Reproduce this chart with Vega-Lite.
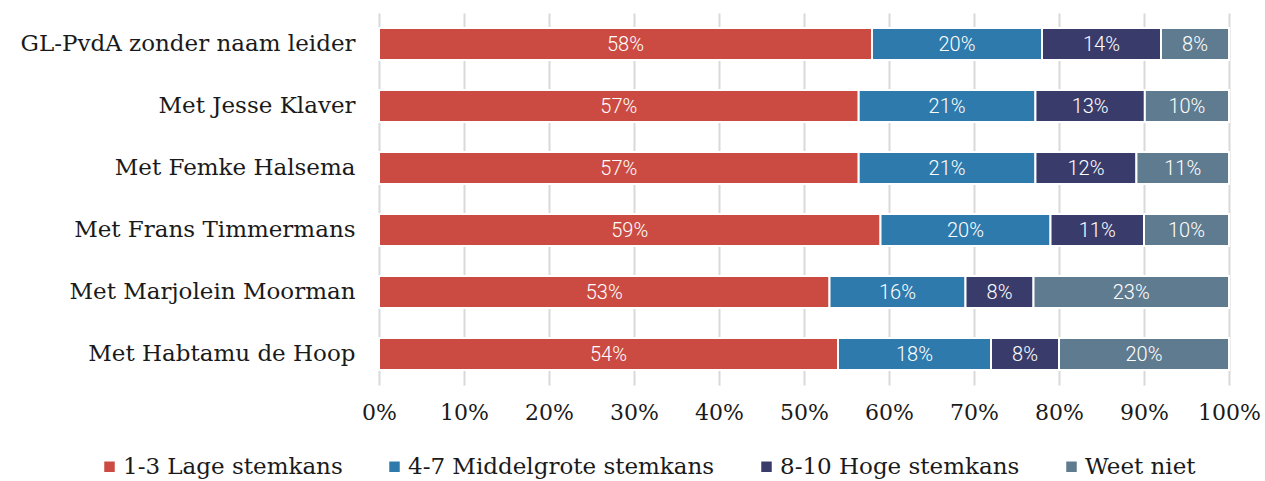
{
  "$schema": "https://vega.github.io/schema/vega-lite/v6.json",
  "width": 850,
  "height": 372,
  "autosize": {"type": "none"},
  "padding": {"left": 379, "top": 13, "right": 36, "bottom": 96},
  "background": "white",
  "config": {"view": {"stroke": null}},
  "data": {"values": [
    {"rij": "GL-PvdA zonder naam leider", "cat": "1-3 Lage stemkans", "v": 0.58},
    {"rij": "GL-PvdA zonder naam leider", "cat": "4-7 Middelgrote stemkans", "v": 0.20},
    {"rij": "GL-PvdA zonder naam leider", "cat": "8-10 Hoge stemkans", "v": 0.14},
    {"rij": "GL-PvdA zonder naam leider", "cat": "Weet niet", "v": 0.08},
    {"rij": "Met Jesse Klaver", "cat": "1-3 Lage stemkans", "v": 0.57},
    {"rij": "Met Jesse Klaver", "cat": "4-7 Middelgrote stemkans", "v": 0.21},
    {"rij": "Met Jesse Klaver", "cat": "8-10 Hoge stemkans", "v": 0.13},
    {"rij": "Met Jesse Klaver", "cat": "Weet niet", "v": 0.10},
    {"rij": "Met Femke Halsema", "cat": "1-3 Lage stemkans", "v": 0.57},
    {"rij": "Met Femke Halsema", "cat": "4-7 Middelgrote stemkans", "v": 0.21},
    {"rij": "Met Femke Halsema", "cat": "8-10 Hoge stemkans", "v": 0.12},
    {"rij": "Met Femke Halsema", "cat": "Weet niet", "v": 0.11},
    {"rij": "Met Frans Timmermans", "cat": "1-3 Lage stemkans", "v": 0.59},
    {"rij": "Met Frans Timmermans", "cat": "4-7 Middelgrote stemkans", "v": 0.20},
    {"rij": "Met Frans Timmermans", "cat": "8-10 Hoge stemkans", "v": 0.11},
    {"rij": "Met Frans Timmermans", "cat": "Weet niet", "v": 0.10},
    {"rij": "Met Marjolein Moorman", "cat": "1-3 Lage stemkans", "v": 0.53},
    {"rij": "Met Marjolein Moorman", "cat": "4-7 Middelgrote stemkans", "v": 0.16},
    {"rij": "Met Marjolein Moorman", "cat": "8-10 Hoge stemkans", "v": 0.08},
    {"rij": "Met Marjolein Moorman", "cat": "Weet niet", "v": 0.23},
    {"rij": "Met Habtamu de Hoop", "cat": "1-3 Lage stemkans", "v": 0.54},
    {"rij": "Met Habtamu de Hoop", "cat": "4-7 Middelgrote stemkans", "v": 0.18},
    {"rij": "Met Habtamu de Hoop", "cat": "8-10 Hoge stemkans", "v": 0.08},
    {"rij": "Met Habtamu de Hoop", "cat": "Weet niet", "v": 0.20}
  ]},
  "transform": [
    {"stack": "v", "groupby": ["rij"], "offset": "normalize", "sort": [{"field": "cat", "order": "ascending"}], "as": ["v0", "v1"]}
  ],
  "encoding": {
    "y": {
      "field": "rij", "type": "nominal", "sort": null,
      "scale": {"paddingInner": 0.48, "paddingOuter": 0.24},
      "axis": {"title": null, "ticks": false, "domain": false, "labelFont": "DejaVu Serif", "labelFontSize": 23, "labelColor": "#1a1a1a", "labelPadding": 24, "labelLimit": 400}
    }
  },
  "layer": [
    {
      "mark": {"type": "bar", "stroke": "white", "strokeWidth": 2},
      "encoding": {
        "x": {"field": "v0", "type": "quantitative", "scale": {"domain": [0, 1]},
          "axis": {"title": null, "format": ".0%", "values": [0,0.1,0.2,0.3,0.4,0.5,0.6,0.7,0.8,0.9,1], "grid": true, "gridColor": "#d9d9d9", "gridWidth": 2, "ticks": false, "domain": false, "labelFont": "DejaVu Serif", "labelFontSize": 22, "labelColor": "#1a1a1a", "labelPadding": 17, "labelFlush": false}},
        "x2": {"field": "v1"},
        "color": {"field": "cat", "type": "nominal",
          "scale": {"domain": ["1-3 Lage stemkans", "4-7 Middelgrote stemkans", "8-10 Hoge stemkans", "Weet niet"], "range": ["#cb4b43", "#2e7aac", "#393c6b", "#5f7b90"]},
          "legend": {"title": null, "orient": "none", "direction": "horizontal", "legendX": -281, "legendY": 442, "symbolType": "square", "symbolSize": 110, "symbolStrokeWidth": 0, "labelFont": "DejaVu Serif", "labelFontSize": 23, "labelColor": "#1a1a1a", "labelLimit": 500, "columnPadding": 40, "symbolOffset": 0, "labelOffset": 2}
        }
      }
    },
    {
      "transform": [
        {"fold": ["v0", "v1"], "as": ["kant", "pos"]},
        {"aggregate": [{"op": "mean", "field": "pos", "as": "mid"}], "groupby": ["rij", "cat", "v"]}
      ],
      "mark": {"type": "text", "color": "white", "font": "Roboto", "fontSize": 20, "fontWeight": 300, "baseline": "middle", "align": "center", "dy": 1},
      "encoding": {
        "x": {"field": "mid", "type": "quantitative"},
        "text": {"field": "v", "type": "quantitative", "format": ".0%"}
      }
    }
  ]
}
